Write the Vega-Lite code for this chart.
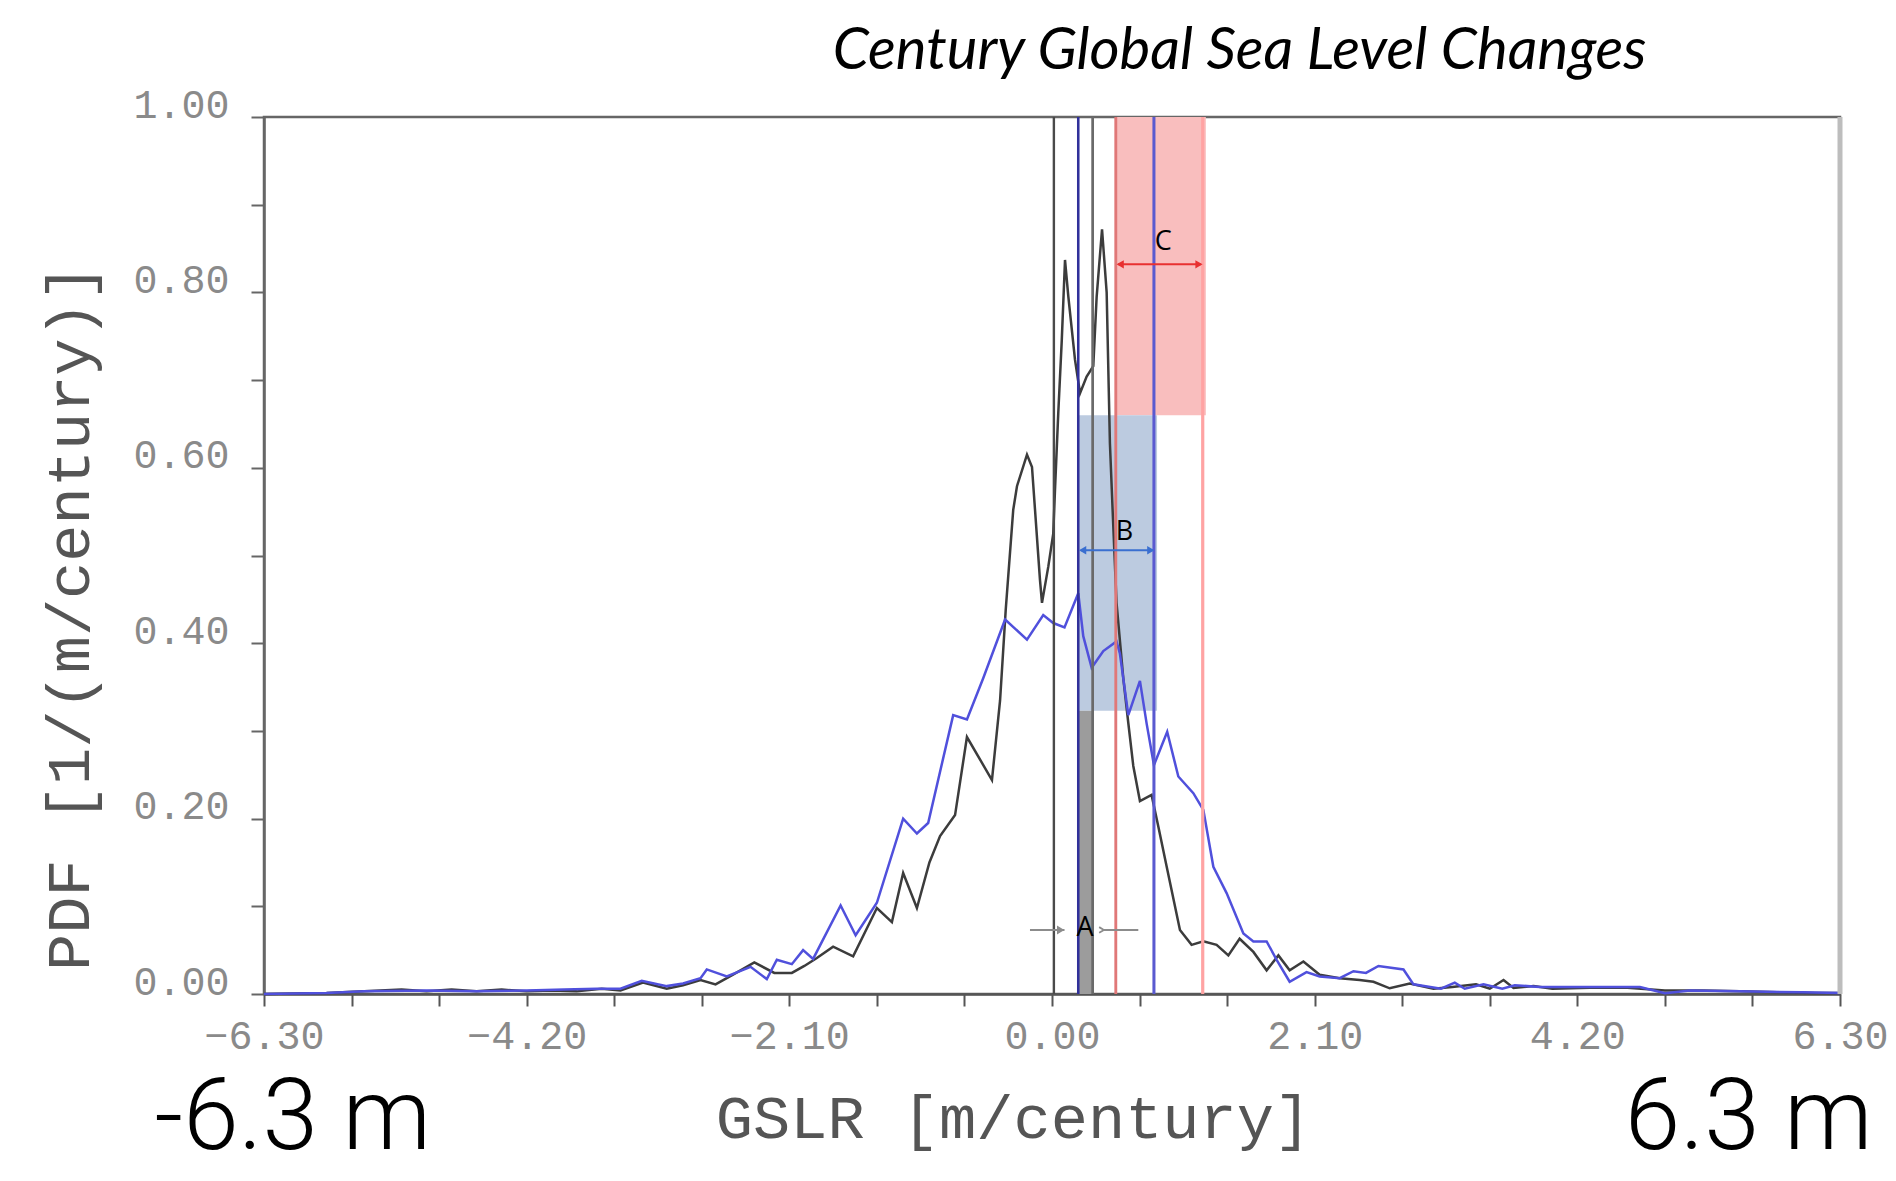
{
  "$schema": "https://vega.github.io/schema/vega-lite/v6.json",
  "autosize": "none",
  "width": 1576,
  "height": 877,
  "padding": {"left": 264, "top": 117, "right": 56, "bottom": 187},
  "background": "white",
  "config": {"view": {"stroke": "#666", "strokeWidth": 2.5}},
  "datasets": {
    "curves": [
      {"x": -6.3, "pdf": 0, "series": "black"},
      {"x": -5.8, "pdf": 0.001, "series": "black"},
      {"x": -5.5, "pdf": 0.003, "series": "black"},
      {"x": -5.2, "pdf": 0.005, "series": "black"},
      {"x": -5.0, "pdf": 0.003, "series": "black"},
      {"x": -4.8, "pdf": 0.005, "series": "black"},
      {"x": -4.6, "pdf": 0.003, "series": "black"},
      {"x": -4.4, "pdf": 0.005, "series": "black"},
      {"x": -4.2, "pdf": 0.003, "series": "black"},
      {"x": -4.0, "pdf": 0.004, "series": "black"},
      {"x": -3.8, "pdf": 0.003, "series": "black"},
      {"x": -3.6, "pdf": 0.006, "series": "black"},
      {"x": -3.45, "pdf": 0.004, "series": "black"},
      {"x": -3.27, "pdf": 0.013, "series": "black"},
      {"x": -3.08, "pdf": 0.006, "series": "black"},
      {"x": -2.95, "pdf": 0.01, "series": "black"},
      {"x": -2.81, "pdf": 0.016, "series": "black"},
      {"x": -2.69, "pdf": 0.011, "series": "black"},
      {"x": -2.55, "pdf": 0.022, "series": "black"},
      {"x": -2.38, "pdf": 0.036, "series": "black"},
      {"x": -2.22, "pdf": 0.024, "series": "black"},
      {"x": -2.08, "pdf": 0.024, "series": "black"},
      {"x": -1.98, "pdf": 0.032, "series": "black"},
      {"x": -1.88, "pdf": 0.041, "series": "black"},
      {"x": -1.75, "pdf": 0.054, "series": "black"},
      {"x": -1.59, "pdf": 0.043, "series": "black"},
      {"x": -1.40, "pdf": 0.098, "series": "black"},
      {"x": -1.28, "pdf": 0.082, "series": "black"},
      {"x": -1.19, "pdf": 0.138, "series": "black"},
      {"x": -1.08, "pdf": 0.098, "series": "black"},
      {"x": -0.98, "pdf": 0.15, "series": "black"},
      {"x": -0.895, "pdf": 0.18, "series": "black"},
      {"x": -0.775, "pdf": 0.204, "series": "black"},
      {"x": -0.68, "pdf": 0.293, "series": "black"},
      {"x": -0.48, "pdf": 0.244, "series": "black"},
      {"x": -0.415, "pdf": 0.335, "series": "black"},
      {"x": -0.37, "pdf": 0.438, "series": "black"},
      {"x": -0.31, "pdf": 0.552, "series": "black"},
      {"x": -0.28, "pdf": 0.579, "series": "black"},
      {"x": -0.2, "pdf": 0.615, "series": "black"},
      {"x": -0.16, "pdf": 0.601, "series": "black"},
      {"x": -0.096, "pdf": 0.472, "series": "black"},
      {"x": -0.08, "pdf": 0.446, "series": "black"},
      {"x": -0.03, "pdf": 0.487, "series": "black"},
      {"x": 0.01, "pdf": 0.525, "series": "black"},
      {"x": 0.024, "pdf": 0.575, "series": "black"},
      {"x": 0.05, "pdf": 0.662, "series": "black"},
      {"x": 0.078, "pdf": 0.745, "series": "black"},
      {"x": 0.104, "pdf": 0.837, "series": "black"},
      {"x": 0.13, "pdf": 0.796, "series": "black"},
      {"x": 0.184, "pdf": 0.723, "series": "black"},
      {"x": 0.224, "pdf": 0.685, "series": "black"},
      {"x": 0.277, "pdf": 0.704, "series": "black"},
      {"x": 0.33, "pdf": 0.716, "series": "black"},
      {"x": 0.357, "pdf": 0.795, "series": "black"},
      {"x": 0.40, "pdf": 0.872, "series": "black"},
      {"x": 0.437, "pdf": 0.80, "series": "black"},
      {"x": 0.463, "pdf": 0.628, "series": "black"},
      {"x": 0.49, "pdf": 0.533, "series": "black"},
      {"x": 0.516, "pdf": 0.446, "series": "black"},
      {"x": 0.543, "pdf": 0.403, "series": "black"},
      {"x": 0.57, "pdf": 0.36, "series": "black"},
      {"x": 0.61, "pdf": 0.309, "series": "black"},
      {"x": 0.65, "pdf": 0.26, "series": "black"},
      {"x": 0.703, "pdf": 0.22, "series": "black"},
      {"x": 0.796, "pdf": 0.227, "series": "black"},
      {"x": 0.85, "pdf": 0.191, "series": "black"},
      {"x": 0.917, "pdf": 0.145, "series": "black"},
      {"x": 1.023, "pdf": 0.073, "series": "black"},
      {"x": 1.116, "pdf": 0.056, "series": "black"},
      {"x": 1.21, "pdf": 0.06, "series": "black"},
      {"x": 1.316, "pdf": 0.056, "series": "black"},
      {"x": 1.41, "pdf": 0.044, "series": "black"},
      {"x": 1.50, "pdf": 0.063, "series": "black"},
      {"x": 1.61, "pdf": 0.048, "series": "black"},
      {"x": 1.716, "pdf": 0.027, "series": "black"},
      {"x": 1.81, "pdf": 0.044, "series": "black"},
      {"x": 1.90, "pdf": 0.027, "series": "black"},
      {"x": 2.01, "pdf": 0.037, "series": "black"},
      {"x": 2.14, "pdf": 0.022, "series": "black"},
      {"x": 2.30, "pdf": 0.018, "series": "black"},
      {"x": 2.46, "pdf": 0.016, "series": "black"},
      {"x": 2.57, "pdf": 0.014, "series": "black"},
      {"x": 2.70, "pdf": 0.0065, "series": "black"},
      {"x": 2.86, "pdf": 0.012, "series": "black"},
      {"x": 3.05, "pdf": 0.006, "series": "black"},
      {"x": 3.2, "pdf": 0.008, "series": "black"},
      {"x": 3.39, "pdf": 0.011, "series": "black"},
      {"x": 3.5, "pdf": 0.006, "series": "black"},
      {"x": 3.61, "pdf": 0.016, "series": "black"},
      {"x": 3.69, "pdf": 0.007, "series": "black"},
      {"x": 3.85, "pdf": 0.009, "series": "black"},
      {"x": 4.0, "pdf": 0.006, "series": "black"},
      {"x": 4.3, "pdf": 0.007, "series": "black"},
      {"x": 4.6, "pdf": 0.007, "series": "black"},
      {"x": 4.9, "pdf": 0.004, "series": "black"},
      {"x": 5.2, "pdf": 0.004, "series": "black"},
      {"x": 5.5, "pdf": 0.003, "series": "black"},
      {"x": 5.8, "pdf": 0.002, "series": "black"},
      {"x": 6.1, "pdf": 0.001, "series": "black"},
      {"x": 6.3, "pdf": 0.001, "series": "black"},
      {"x": -6.3, "pdf": 0, "series": "blue"},
      {"x": -5.8, "pdf": 0.001, "series": "blue"},
      {"x": -5.5, "pdf": 0.003, "series": "blue"},
      {"x": -5.0, "pdf": 0.004, "series": "blue"},
      {"x": -4.6, "pdf": 0.003, "series": "blue"},
      {"x": -4.2, "pdf": 0.004, "series": "blue"},
      {"x": -3.9, "pdf": 0.005, "series": "blue"},
      {"x": -3.64, "pdf": 0.006, "series": "blue"},
      {"x": -3.45, "pdf": 0.006, "series": "blue"},
      {"x": -3.28, "pdf": 0.015, "series": "blue"},
      {"x": -3.08, "pdf": 0.009, "series": "blue"},
      {"x": -2.95, "pdf": 0.012, "series": "blue"},
      {"x": -2.81, "pdf": 0.018, "series": "blue"},
      {"x": -2.76, "pdf": 0.028, "series": "blue"},
      {"x": -2.6, "pdf": 0.02, "series": "blue"},
      {"x": -2.41, "pdf": 0.031, "series": "blue"},
      {"x": -2.28, "pdf": 0.017, "series": "blue"},
      {"x": -2.2, "pdf": 0.039, "series": "blue"},
      {"x": -2.08, "pdf": 0.034, "series": "blue"},
      {"x": -1.99, "pdf": 0.05, "series": "blue"},
      {"x": -1.91, "pdf": 0.04, "series": "blue"},
      {"x": -1.69, "pdf": 0.101, "series": "blue"},
      {"x": -1.57, "pdf": 0.067, "series": "blue"},
      {"x": -1.40, "pdf": 0.104, "series": "blue"},
      {"x": -1.19, "pdf": 0.20, "series": "blue"},
      {"x": -1.08, "pdf": 0.183, "series": "blue"},
      {"x": -0.99, "pdf": 0.195, "series": "blue"},
      {"x": -0.79, "pdf": 0.318, "series": "blue"},
      {"x": -0.68, "pdf": 0.313, "series": "blue"},
      {"x": -0.55, "pdf": 0.36, "series": "blue"},
      {"x": -0.375, "pdf": 0.427, "series": "blue"},
      {"x": -0.2, "pdf": 0.404, "series": "blue"},
      {"x": -0.07, "pdf": 0.432, "series": "blue"},
      {"x": 0.01, "pdf": 0.423, "series": "blue"},
      {"x": 0.10, "pdf": 0.418, "series": "blue"},
      {"x": 0.21, "pdf": 0.457, "series": "blue"},
      {"x": 0.25, "pdf": 0.408, "series": "blue"},
      {"x": 0.317, "pdf": 0.372, "series": "blue"},
      {"x": 0.41, "pdf": 0.391, "series": "blue"},
      {"x": 0.516, "pdf": 0.402, "series": "blue"},
      {"x": 0.543, "pdf": 0.388, "series": "blue"},
      {"x": 0.61, "pdf": 0.318, "series": "blue"},
      {"x": 0.703, "pdf": 0.357, "series": "blue"},
      {"x": 0.757, "pdf": 0.308, "series": "blue"},
      {"x": 0.815, "pdf": 0.261, "series": "blue"},
      {"x": 0.921, "pdf": 0.299, "series": "blue"},
      {"x": 1.01, "pdf": 0.248, "series": "blue"},
      {"x": 1.13, "pdf": 0.229, "series": "blue"},
      {"x": 1.21, "pdf": 0.21, "series": "blue"},
      {"x": 1.29, "pdf": 0.145, "series": "blue"},
      {"x": 1.396, "pdf": 0.115, "series": "blue"},
      {"x": 1.53, "pdf": 0.069, "series": "blue"},
      {"x": 1.61, "pdf": 0.06, "series": "blue"},
      {"x": 1.716, "pdf": 0.06, "series": "blue"},
      {"x": 1.796, "pdf": 0.039, "series": "blue"},
      {"x": 1.90, "pdf": 0.014, "series": "blue"},
      {"x": 2.035, "pdf": 0.025, "series": "blue"},
      {"x": 2.14, "pdf": 0.02, "series": "blue"},
      {"x": 2.30, "pdf": 0.018, "series": "blue"},
      {"x": 2.41, "pdf": 0.026, "series": "blue"},
      {"x": 2.51, "pdf": 0.024, "series": "blue"},
      {"x": 2.61, "pdf": 0.032, "series": "blue"},
      {"x": 2.81, "pdf": 0.028, "series": "blue"},
      {"x": 2.89, "pdf": 0.011, "series": "blue"},
      {"x": 3.11, "pdf": 0.006, "series": "blue"},
      {"x": 3.22, "pdf": 0.013, "series": "blue"},
      {"x": 3.3, "pdf": 0.006, "series": "blue"},
      {"x": 3.45, "pdf": 0.011, "series": "blue"},
      {"x": 3.6, "pdf": 0.006, "series": "blue"},
      {"x": 3.7, "pdf": 0.01, "series": "blue"},
      {"x": 3.9, "pdf": 0.008, "series": "blue"},
      {"x": 4.3, "pdf": 0.008, "series": "blue"},
      {"x": 4.7, "pdf": 0.008, "series": "blue"},
      {"x": 4.9, "pdf": 0.001, "series": "blue"},
      {"x": 5.1, "pdf": 0.004, "series": "blue"},
      {"x": 5.5, "pdf": 0.003, "series": "blue"},
      {"x": 6.0, "pdf": 0.002, "series": "blue"},
      {"x": 6.3, "pdf": 0.001, "series": "blue"}
    ],
    "bands": [
      {"band": "C", "x": 0.505, "x2": 1.23, "y": 0.66, "y2": 1.0},
      {"band": "B", "x": 0.21, "x2": 0.84, "y": 0.323, "y2": 0.66},
      {"band": "A", "x": 0.21, "x2": 0.33, "y": 0.0, "y2": 0.323}
    ],
    "vlines": [
      {"name": "zero", "x": 0.015},
      {"name": "A_lo", "x": 0.21},
      {"name": "A_hi", "x": 0.325},
      {"name": "C_lo", "x": 0.51},
      {"name": "B_hi", "x": 0.815},
      {"name": "C_hi", "x": 1.205}
    ],
    "arrows": [
      {"kind": "C", "x": 0.53, "x2": 1.19, "y": 0.832},
      {"kind": "B", "x": 0.23, "x2": 0.805, "y": 0.506},
      {"kind": "A", "x": -0.176, "x2": 0.1, "y": 0.073},
      {"kind": "A", "x": 0.4, "x2": 0.69, "y": 0.073}
    ],
    "heads": [
      {"kind": "C", "dir": "left", "x": 0.545, "y": 0.832},
      {"kind": "C", "dir": "right", "x": 1.175, "y": 0.832},
      {"kind": "B", "dir": "left", "x": 0.245, "y": 0.506},
      {"kind": "B", "dir": "right", "x": 0.79, "y": 0.506},
      {"kind": "A", "dir": "right", "x": 0.085, "y": 0.073},
      {"kind": "A", "dir": "left", "x": 0.415, "y": 0.073}
    ],
    "letters": [
      {"label": "C", "x": 0.889, "y": 0.857},
      {"label": "B", "x": 0.58, "y": 0.527},
      {"label": "A", "x": 0.264, "y": 0.075}
    ],
    "ends": [
      {"label": "-6.3 m", "x": -6.07, "y": -0.177},
      {"label": "6.3 m", "x": 5.57, "y": -0.177}
    ],
    "heading": [
      {"label": "Century Global Sea Level Changes", "x": 1.5, "y": 1.055}
    ]
  },
  "layer": [
    {
      "data": {"name": "bands"},
      "mark": {"type": "rect"},
      "encoding": {
        "x": {"field": "x", "type": "quantitative", "scale": {"domain": [-6.3, 6.3], "nice": false, "zero": false},
          "axis": {"title": "GSLR [m/century]", "values": [-6.3, -5.6, -4.9, -4.2, -3.5, -2.8, -2.1, -1.4, -0.7, 0, 0.7, 1.4, 2.1, 2.8, 3.5, 4.2, 4.9, 5.6, 6.3],
            "labelExpr": "abs(datum.value/2.1 - round(datum.value/2.1)) < 0.01 ? format(datum.value, '.2f') : ''",
            "grid": false, "domainColor": "#555", "domainWidth": 2.5, "tickColor": "#555", "tickWidth": 2, "tickSize": 12,
            "labelFont": "Liberation Mono", "labelFontSize": 40, "labelColor": "#8a8a8a", "labelPadding": 30, "labelBaseline": "middle", "labelOverlap": false, "labelFlush": false,
            "titleFont": "Liberation Mono", "titleFontSize": 62, "titleFontWeight": "normal", "titleColor": "#555", "titleX": 749, "titleY": 124, "titleAnchor": "middle", "titleAlign": "center", "titleBaseline": "middle"}},
        "x2": {"field": "x2"},
        "y": {"field": "y", "type": "quantitative", "scale": {"domain": [0, 1], "nice": false},
          "axis": {"title": "PDF  [1/(m/century)]", "values": [0, 0.1, 0.2, 0.3, 0.4, 0.5, 0.6, 0.7, 0.8, 0.9, 1.0],
            "labelExpr": "round(datum.value*10) % 2 == 0 ? format(datum.value, '.2f') : ''",
            "grid": false, "domainColor": "#666", "domainWidth": 2.5, "tickColor": "#666", "tickWidth": 2, "tickSize": 13,
            "labelFont": "Liberation Mono", "labelFontSize": 40, "labelColor": "#8a8a8a", "labelPadding": 22, "labelOffset": -12, "labelOverlap": false, "labelFlush": false,
            "titleFont": "Liberation Mono", "titleFontSize": 62, "titleFontWeight": "normal", "titleColor": "#555", "titleX": -195, "titleY": 500, "titleAngle": -90, "titleAlign": "center", "titleBaseline": "middle", "titleAnchor": "middle"}},
        "y2": {"field": "y2"},
        "color": {"field": "band", "type": "nominal", "scale": {"domain": ["C", "B", "A"], "range": ["#f9bebe", "#bccbe0", "#9c9c9c"]}, "legend": null}
      }
    },
    {
      "data": {"name": "curves"},
      "mark": {"type": "line", "strokeWidth": 2.5, "interpolate": "linear"},
      "encoding": {
        "x": {"field": "x", "type": "quantitative"},
        "y": {"field": "pdf", "type": "quantitative"},
        "detail": {"field": "series"},
        "color": {"field": "series", "type": "nominal", "scale": {"domain": ["black", "blue"], "range": ["#3c3c3c", "#5050dc"]}, "legend": null}
      }
    },
    {
      "data": {"name": "vlines"},
      "mark": {"type": "rule"},
      "encoding": {
        "x": {"field": "x", "type": "quantitative"},
        "color": {"field": "name", "type": "nominal", "scale": {"domain": ["zero", "A_lo", "A_hi", "C_lo", "B_hi", "C_hi"], "range": ["#4a4a4a", "#30309a", "#6a6a6a", "#e07878", "#5a5ad0", "#ffa3a3"]}, "legend": null},
        "strokeWidth": {"field": "name", "type": "nominal", "scale": {"domain": ["zero", "A_lo", "A_hi", "C_lo", "B_hi", "C_hi"], "range": [2.4, 3.2, 2.5, 2.2, 2.2, 6]}, "legend": null}
      }
    },
    {
      "data": {"name": "arrows"},
      "mark": {"type": "rule", "strokeWidth": 2},
      "encoding": {
        "x": {"field": "x", "type": "quantitative"},
        "x2": {"field": "x2"},
        "y": {"field": "y", "type": "quantitative"},
        "color": {"field": "kind", "type": "nominal", "scale": {"domain": ["C", "B", "A"], "range": ["#e83030", "#3a6fd0", "#8c8c8c"]}, "legend": null}
      }
    },
    {
      "data": {"name": "heads"},
      "transform": [{"filter": "datum.kind != 'A'"}],
      "mark": {"type": "point", "filled": true, "size": 70, "opacity": 1},
      "encoding": {
        "x": {"field": "x", "type": "quantitative"},
        "y": {"field": "y", "type": "quantitative"},
        "shape": {"field": "dir", "type": "nominal", "scale": {"domain": ["left", "right"], "range": ["triangle-left", "triangle-right"]}, "legend": null},
        "color": {"field": "kind", "type": "nominal", "scale": {"domain": ["C", "B", "A"], "range": ["#e83030", "#3a6fd0", "#8c8c8c"]}, "legend": null}
      }
    },
    {
      "data": {"name": "heads"},
      "transform": [{"filter": "datum.kind == 'A'"}],
      "mark": {"type": "point", "filled": false, "size": 90, "strokeWidth": 1.8, "opacity": 1},
      "encoding": {
        "x": {"field": "x", "type": "quantitative"},
        "y": {"field": "y", "type": "quantitative"},
        "shape": {"field": "dir", "type": "nominal", "scale": {"domain": ["left", "right"], "range": ["M0,0L-1,-0.6M0,0L-1,0.6", "M0,0L-1,-0.6L-1,0.6Z"]}, "legend": null},
        "color": {"value": "#8c8c8c"}
      }
    },
    {
      "data": {"name": "letters"},
      "mark": {"type": "text", "font": "Open Sans", "fontSize": 27, "color": "#000", "align": "center", "baseline": "middle"},
      "encoding": {
        "x": {"field": "x", "type": "quantitative"},
        "y": {"field": "y", "type": "quantitative"},
        "text": {"field": "label"}
      }
    },
    {
      "data": {"name": "ends"},
      "mark": {"type": "text", "font": "Roboto", "fontWeight": 300, "fontSize": 100, "color": "#000", "align": "center", "baseline": "alphabetic"},
      "encoding": {
        "x": {"field": "x", "type": "quantitative"},
        "y": {"field": "y", "type": "quantitative"},
        "text": {"field": "label"}
      }
    },
    {
      "data": {"name": "heading"},
      "mark": {"type": "text", "font": "Lato", "fontStyle": "italic", "fontSize": 58, "color": "#000", "align": "center", "baseline": "alphabetic"},
      "encoding": {
        "x": {"field": "x", "type": "quantitative"},
        "y": {"field": "y", "type": "quantitative"},
        "text": {"field": "label"}
      }
    },
    {
      "data": {"values": [{"edge": 6.3}]},
      "mark": {"type": "rule", "color": "#bdbdbd", "strokeWidth": 5},
      "encoding": {"x": {"field": "edge", "type": "quantitative"}}
    }
  ],
  "resolve": {"scale": {"color": "independent", "strokeWidth": "independent", "shape": "independent"}}
}
